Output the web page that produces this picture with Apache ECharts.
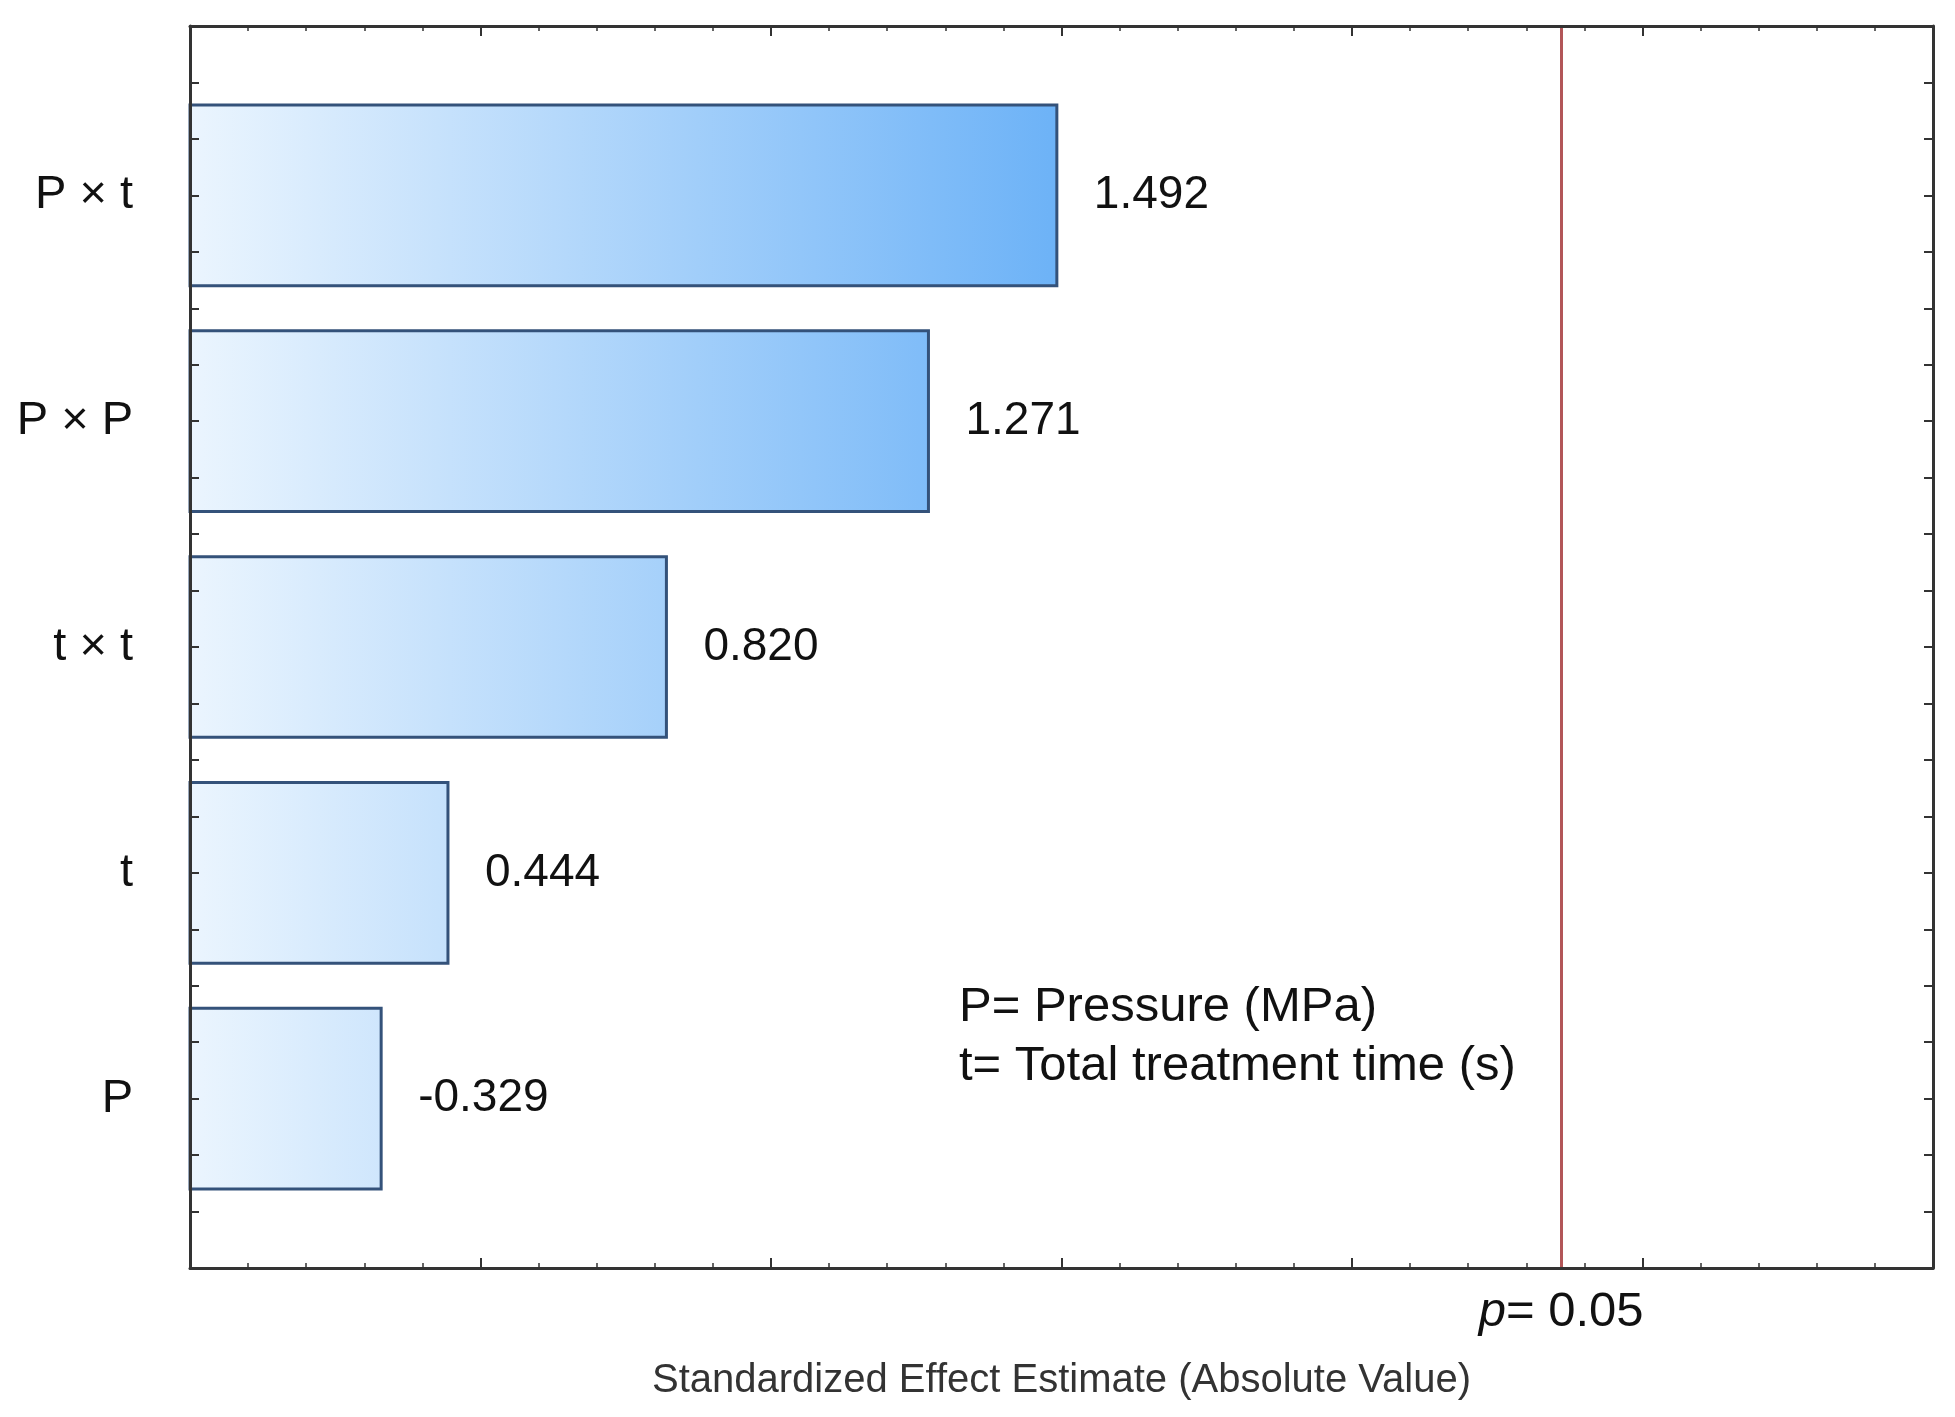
<!DOCTYPE html>
<html>
<head>
<meta charset="utf-8">
<script src="https://cdn.jsdelivr.net/npm/echarts@6/dist/echarts.min.js"></script>
<style>
html,body{margin:0;padding:0;background:#fff;}
#chart{width:1955px;height:1417px;}
</style>
</head>
<body>
<div id="chart"></div>
<script>
// ---- data ----
const categories = ['P × t', 'P × P', 't × t', 't', 'P'];
const effects = [1.492, 1.271, 0.820, 0.444, -0.329];
const pCrit = 2.36;           // critical value for p = 0.05
const pLabel = '= 0.05';
const xMin = 0, xMax = 3, xInterval = 0.5;
const axisName = 'Standardized Effect Estimate (Absolute Value)';
const legendText = 'P= Pressure (MPa)\nt= Total treatment time (s)';

const FONT = "'Liberation Sans', Arial, Helvetica, sans-serif";
const chart = echarts.init(document.getElementById('chart'), null, {renderer: 'canvas'});

const barOffset = 0.75;   // band centre offset on the y scale
const halfH = 0.4;        // half bar thickness in y units
const gradEnd = 1.5;      // value where gradient reaches full colour

const lineCol = '#333333';
const axisCommon = {
  type: 'value', min: xMin, max: xMax, interval: xInterval, z: 5,
  axisLine: {show: true, onZero: false, lineStyle: {color: lineCol, width: 3}},
  axisTick: {show: true, inside: true, length: 10, lineStyle: {color: lineCol, width: 2}},
  minorTick: {show: true, splitNumber: 5, length: 5, lineStyle: {color: lineCol, width: 1.5}},
  splitLine: {show: false}, minorSplitLine: {show: false}
};
const yCommon = {
  type: 'value', inverse: true, min: 0, max: 5.5, interval: 0.25, z: 5,
  axisLine: {show: true, onZero: false, lineStyle: {color: lineCol, width: 3}},
  axisTick: {show: true, inside: true, length: 9, lineStyle: {color: lineCol, width: 2}},
  splitLine: {show: false}
};

const option = {
  backgroundColor: '#ffffff',
  animation: false,
  title: {
    text: legendText, left: 959, top: 978, padding: 0,
    textStyle: {fontFamily: FONT, fontSize: 49, fontWeight: 'normal', color: '#111', lineHeight: 59}
  },
  grid: {left: 190, right: 22, top: 26, bottom: 149, containLabel: false},
  xAxis: [
    Object.assign({}, axisCommon, {
      position: 'bottom',
      name: axisName, nameLocation: 'middle', nameGap: 93,
      nameTextStyle: {fontFamily: FONT, fontSize: 40, color: '#333'},
      axisLabel: {
        show: true, customValues: [pCrit], margin: 20,
        fontFamily: FONT, fontSize: 49, color: '#111',
        formatter: function () { return '{i|p}' + pLabel; },
        rich: {i: {fontStyle: 'italic', fontFamily: FONT, fontSize: 49, color: '#111'}}
      }
    }),
    Object.assign({}, axisCommon, {position: 'top', axisLabel: {show: false}})
  ],
  yAxis: [
    Object.assign({}, yCommon, {
      position: 'left',
      axisLabel: {
        show: true, margin: 57, align: 'right',
        fontFamily: FONT, fontSize: 47, color: '#111',
        formatter: function (v) {
          const k = v - barOffset;
          if (Math.abs(k - Math.round(k)) < 1e-6) {
            const i = Math.round(k);
            return categories[i] !== undefined ? categories[i] : '';
          }
          return '';
        }
      }
    }),
    Object.assign({}, yCommon, {position: 'right', axisLabel: {show: false}})
  ],
  series: [{
    type: 'custom',
    xAxisIndex: 0, yAxisIndex: 0,
    clip: false, z: 2,
    data: effects.map(function (e, i) { return [Math.abs(e), i, e]; }),
    encode: {x: 0, y: 1},
    renderItem: function (params, api) {
      const v = api.value(0);
      const idx = api.value(1);
      const raw = api.value(2);
      const c = idx + barOffset;
      const p0 = api.coord([0, c - halfH]);
      const p1 = api.coord([v, c + halfH]);
      const pc = api.coord([v, c]);
      const gx0 = api.coord([0, 0])[0];
      const gx1 = api.coord([gradEnd, 0])[0];
      const y0 = Math.min(p0[1], p1[1]);
      const h = Math.abs(p1[1] - p0[1]);
      return {
        type: 'group',
        children: [{
          type: 'rect',
          shape: {x: p0[0], y: y0, width: p1[0] - p0[0], height: h},
          style: {
            fill: {
              type: 'linear', x: gx0, y: 0, x2: gx1, y2: 0, global: true,
              colorStops: [{offset: 0, color: '#ebf5fe'}, {offset: 1, color: '#6cb2f7'}]
            },
            stroke: '#34527a', lineWidth: 3
          }
        }, {
          type: 'text',
          style: {
            text: raw.toFixed(3), x: pc[0] + 37, y: pc[1],
            textAlign: 'left', textVerticalAlign: 'middle',
            fontFamily: FONT, fontSize: 46, fill: '#111'
          }
        }]
      };
    },
    markLine: {
      silent: true, symbol: ['none', 'none'],
      label: {show: false},
      lineStyle: {color: '#b25658', width: 3, type: 'solid'},
      data: [{xAxis: pCrit}]
    }
  }]
};
chart.setOption(option);
</script>
</body>
</html>
